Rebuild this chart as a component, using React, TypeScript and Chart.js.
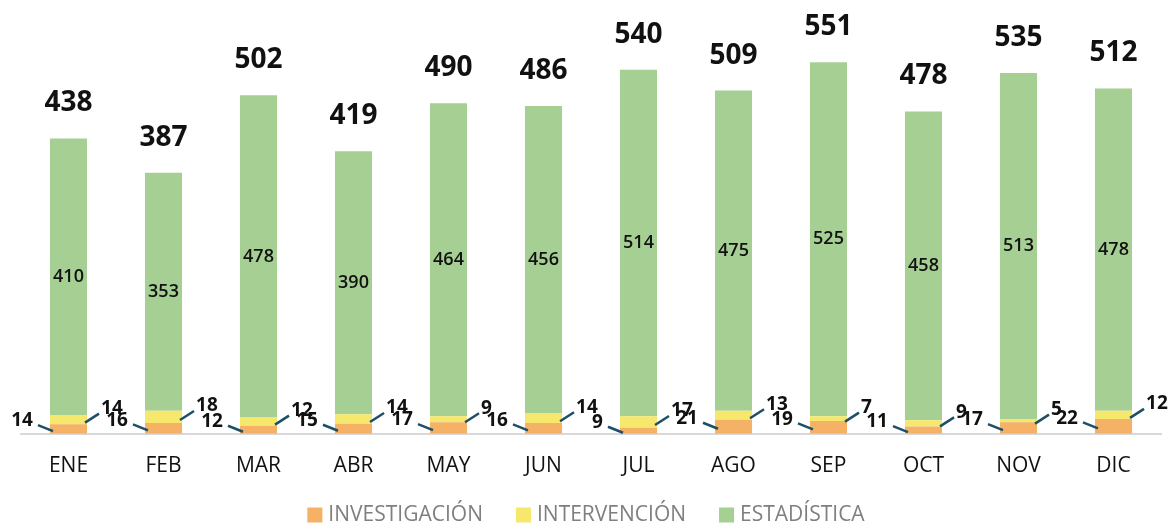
import React, { useEffect, useRef } from "react";
import { Chart, registerables } from "chart.js";

Chart.register(...registerables);

const months = ["ENE", "FEB", "MAR", "ABR", "MAY", "JUN", "JUL", "AGO", "SEP", "OCT", "NOV", "DIC"];
const investigacion = [14, 16, 12, 15, 17, 16, 9, 21, 19, 11, 17, 22];
const intervencion = [14, 18, 12, 14, 9, 14, 17, 13, 7, 9, 5, 12];
const estadistica = [410, 353, 478, 390, 464, 456, 514, 475, 525, 458, 513, 478];
const totals = [438, 387, 502, 419, 490, 486, 540, 509, 551, 478, 535, 512];
const seriesNames = ["INVESTIGACIÓN", "INTERVENCIÓN", "ESTADÍSTICA"];
const seriesColors = ["#f5b165", "#f5e86c", "#a6cf94"];

const FONT = "'Open Sans', 'Noto Sans', sans-serif";

const labelPlugin = {
  id: "labelPlugin",
  afterDatasetsDraw(chart: any) {
    const ctx = chart.ctx;
    const m0 = chart.getDatasetMeta(0);
    const m1 = chart.getDatasetMeta(1);
    const m2 = chart.getDatasetMeta(2);
    ctx.save();
    for (let i = 0; i < months.length; i++) {
      const o = m0.data[i];
      const y = m1.data[i];
      const g = m2.data[i];
      const left = o.x - o.width / 2;
      const right = o.x + o.width / 2;
      ctx.fillStyle = "#111";
      ctx.font = `600 18px ${FONT}`;
      ctx.textAlign = "center";
      ctx.textBaseline = "middle";
      ctx.fillText(String(estadistica[i]), g.x, (g.y + g.base) / 2);
      ctx.font = `700 28px ${FONT}`;
      ctx.fillText(String(totals[i]), g.x, g.y - 35);
      ctx.strokeStyle = "#1d4f68";
      ctx.lineWidth = 2.5;
      const oMid = (o.y + o.base) / 2;
      const lx0 = left + 3, ly0 = oMid + 2;
      const lx1 = left - 12, ly1 = oMid - 4;
      ctx.beginPath();
      ctx.moveTo(lx0, ly0);
      ctx.lineTo(lx1, ly1);
      ctx.stroke();
      const yMid = (y.y + y.base) / 2;
      const rx0 = right - 2, ry0 = yMid + 3;
      const rx1 = right + 12, ry1 = yMid - 6;
      ctx.beginPath();
      ctx.moveTo(rx0, ry0);
      ctx.lineTo(rx1, ry1);
      ctx.stroke();
      ctx.fillStyle = "#111";
      ctx.font = `700 19px ${FONT}`;
      ctx.textAlign = "right";
      ctx.fillText(String(investigacion[i]), lx1 - 5, ly1 - 4);
      ctx.textAlign = "left";
      ctx.fillText(String(intervencion[i]), rx1 + 2, ry1 - 5);
    }
    ctx.restore();
  },
  afterDraw(chart: any) {
    const ctx = chart.ctx;
    ctx.save();
    ctx.font = `400 21px ${FONT}`;
    ctx.textBaseline = "middle";
    ctx.textAlign = "left";
    const box = 15, gapText = 6, gapItem = 33;
    const widths = seriesNames.map((n) => ctx.measureText(n).width);
    let total = 0;
    widths.forEach((w, i) => {
      total += box + gapText + w + (i < widths.length - 1 ? gapItem : 0);
    });
    let x = chart.width / 2 - total / 2;
    const cy = 515;
    seriesNames.forEach((n, i) => {
      ctx.fillStyle = seriesColors[i];
      ctx.fillRect(x, cy - box / 2, box, box);
      ctx.fillStyle = "#7f7f7f";
      ctx.fillText(n, x + box + gapText, cy);
      x += box + gapText + widths[i] + gapItem;
    });
    ctx.restore();
  },
};

export default function App() {
  const ref = useRef<HTMLCanvasElement | null>(null);
  useEffect(() => {
    if (!ref.current) return;
    const chart = new Chart(ref.current, {
      type: "bar",
      data: {
        labels: months,
        datasets: [
          { label: seriesNames[0], data: investigacion, backgroundColor: seriesColors[0] },
          { label: seriesNames[1], data: intervencion, backgroundColor: seriesColors[1] },
          { label: seriesNames[2], data: estadistica, backgroundColor: seriesColors[2] },
        ],
      },
      options: {
        responsive: false,
        animation: false,
        layout: { padding: { top: 15, left: 21, right: 11, bottom: 34 } },
        datasets: { bar: { categoryPercentage: 1, barPercentage: 0.39 } },
        scales: {
          x: {
            stacked: true,
            grid: { display: false },
            border: { display: true, color: "#d9d9d9", width: 2 },
            ticks: { color: "#111", font: { family: FONT, size: 21 }, padding: 12 },
          },
          y: { stacked: true, display: false, min: 0, max: 621 },
        },
        plugins: {
          tooltip: { enabled: false },
          legend: { display: false },
        },
      },
      plugins: [labelPlugin],
    });
    return () => chart.destroy();
  }, []);
  return (
    <div style={{ position: "fixed", left: 0, top: 0, width: 1172, height: 525, background: "#fff" }}>
      <canvas ref={ref} width={1172} height={525} />
    </div>
  );
}
